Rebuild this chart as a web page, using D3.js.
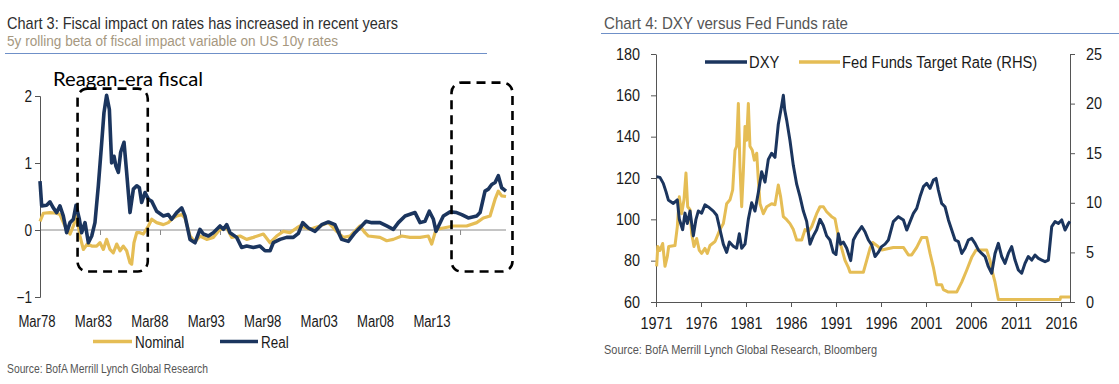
<!DOCTYPE html>
<html><head><meta charset="utf-8">
<script src="https://cdn.jsdelivr.net/npm/d3@7"></script>
<style>
body{margin:0;background:#fff;}
svg text{font-family:"Liberation Sans Narrow","Arial Narrow","Liberation Sans",Arial,sans-serif;}
</style></head><body>
<svg id="c" width="1119" height="384"></svg>
<script>
// ---------- Chart 3 data ----------
const realYears = [1978.17,1978.31,1978.72,1979.0,1979.28,1979.56,1979.83,1980.11,1980.39,1980.67,1980.95,1981.17,1981.45,1981.64,1981.92,1982.2,1982.48,1982.75,1983.03,1983.31,1983.5,1983.72,1983.95,1984.14,1984.34,1984.5,1984.7,1984.89,1985.17,1985.39,1985.67,1985.95,1986.23,1986.45,1986.64,1986.92,1987.2,1987.48,1987.89,1988.45,1988.86,1989.14,1989.56,1989.98,1990.25,1990.67,1991.09,1991.5,1991.78,1992.2,1992.61,1993.17,1993.45,1993.73,1994.0,1994.56,1994.97,1995.39,1995.95,1996.5,1996.92,1997.34,1997.61,1998.17,1998.72,1999.28,1999.7,2000.06,2000.53,2001.09,2001.64,2002.2,2002.75,2003.31,2003.86,2004.42,2004.97,2005.34,2005.81,2006.5,2007.06,2007.61,2008.03,2008.59,2009.42,2009.84,2010.25,2010.61,2010.95,2011.17,2011.78,2012.34,2012.89,2013.31,2013.86,2014.56,2014.84,2015.25,2015.53,2015.81,2016.09,2016.36,2016.64,2017.0];
const realValues = [0.73,0.36,0.37,0.42,0.33,0.26,0.36,0.21,-0.04,0.11,0.16,0.37,0.16,-0.04,0.11,-0.19,-0.09,0.11,0.66,1.30,1.75,2.01,1.80,1.0,1.1,0.95,0.86,1.16,1.31,0.86,0.26,0.61,0.66,0.63,0.41,0.56,0.46,0.43,0.28,0.21,0.23,0.16,0.26,0.33,0.21,-0.14,-0.19,0.01,-0.06,-0.09,-0.04,0.06,0.01,0.08,-0.04,-0.11,-0.26,-0.24,-0.26,-0.24,-0.31,-0.31,-0.19,-0.14,-0.11,-0.11,-0.05,0.11,0.03,-0.02,0.08,0.12,0.08,-0.14,-0.17,-0.04,0.06,0.13,0.11,0.11,0.06,0.01,0.11,0.21,0.26,0.11,0.13,0.28,0.16,-0.02,0.21,0.27,0.26,0.23,0.18,0.21,0.26,0.58,0.61,0.68,0.71,0.81,0.63,0.58];
const nominalYears = [1978.17,1978.45,1979.0,1979.56,1979.83,1980.25,1980.67,1980.95,1981.22,1981.5,1981.78,1982.11,1982.48,1982.89,1983.17,1983.45,1983.72,1984.0,1984.28,1984.56,1984.84,1985.11,1985.39,1985.67,1985.81,1986.0,1986.23,1986.5,1986.78,1987.2,1987.48,1987.89,1988.45,1988.86,1989.14,1989.56,1989.98,1990.25,1990.67,1991.09,1991.5,1992.06,1992.61,1993.17,1993.73,1994.14,1994.84,1995.39,1995.95,1996.78,1997.34,1997.89,1998.45,1999.0,1999.56,1999.84,2000.67,2001.5,2002.2,2002.89,2003.45,2004.0,2004.84,2005.25,2005.53,2006.5,2007.06,2007.61,2008.31,2009.0,2009.84,2010.53,2010.81,2011.17,2011.78,2012.61,2013.72,2014.56,2015.11,2015.67,2016.09,2016.36,2016.64,2017.0];
const nominalValues = [0.13,0.25,0.26,0.25,0.23,0.06,-0.06,0.06,0.21,-0.09,-0.29,-0.21,-0.24,-0.24,-0.19,-0.29,-0.14,-0.29,-0.34,-0.21,-0.31,-0.24,-0.31,-0.49,-0.51,-0.19,-0.04,-0.04,-0.06,0.06,0.16,0.11,0.08,0.11,0.16,0.21,0.23,0.18,-0.09,-0.18,-0.09,-0.14,-0.11,0.01,0.03,-0.11,-0.09,-0.14,-0.11,-0.06,-0.19,-0.09,-0.02,-0.04,0.03,0.06,0.01,0.06,0.11,-0.02,-0.11,-0.09,0.06,-0.04,-0.09,-0.11,-0.16,-0.14,-0.09,-0.11,-0.11,-0.09,-0.21,0.01,0.03,0.06,0.06,0.11,0.18,0.21,0.46,0.58,0.51,0.50];
const leftXLabels = ["Mar78","Mar83","Mar88","Mar93","Mar98","Mar03","Mar08","Mar13"];
const leftXTickYears = [1978.17,1983.17,1988.17,1993.17,1998.17,2003.17,2008.17,2013.17];
const leftYTicks = [2,1,0,-1];
const leftSeriesNames = ["Nominal","Real"];
// highlighted periods [startYear, endYear, low, high]
const boxReagan = [1981.3,1987.15,-0.62,2.11];
const boxRecent = [2012.46,2017.54,-0.62,2.2];

// ---------- Chart 4 data ----------
const dxyYears = [1971.07,1971.44,1971.81,1972.11,1972.37,1972.93,1973.37,1973.59,1973.96,1974.22,1974.48,1974.78,1975.15,1975.44,1975.7,1976.07,1976.44,1976.81,1977.37,1977.74,1978.11,1978.48,1978.85,1979.15,1979.59,1979.96,1980.26,1980.52,1980.89,1981.26,1981.63,1982.0,1982.37,1982.74,1983.11,1983.48,1983.85,1984.22,1984.59,1984.96,1985.15,1985.3,1985.52,1985.89,1986.26,1986.63,1987.0,1987.37,1987.74,1988.11,1988.48,1988.85,1989.22,1989.59,1989.96,1990.33,1990.7,1991.0,1991.26,1991.52,1991.81,1992.19,1992.63,1992.93,1993.3,1993.86,1994.22,1994.6,1994.97,1995.34,1995.7,1996.07,1996.45,1996.82,1997.37,1997.93,1998.49,1998.86,1999.23,1999.6,1999.97,2000.34,2000.71,2001.08,2001.45,2001.82,2002.12,2002.37,2002.74,2003.11,2003.49,2003.86,2004.23,2004.6,2004.97,2005.34,2005.71,2006.08,2006.45,2006.82,2007.19,2007.56,2007.93,2008.3,2008.67,2009.04,2009.41,2009.78,2010.15,2010.52,2010.89,2011.26,2011.63,2012.0,2012.37,2012.74,2013.11,2013.49,2013.86,2014.23,2014.6,2014.97,2015.34,2015.71,2016.08,2016.45,2016.82,2017.0];
const dxyValues = [120.6,120.3,117.4,113.4,109.4,107.7,109.4,100,95,103,98,104,92,100,104,103,107,106,104,102,95,88,84,89,87,86,93,86,88,100,108,104,113,123,118,129,132,130,146,155,160,153,148,138,126,117,111,104,99,88,92,95,100,97,92,90,84,83,93,88,89,86,80,90,93,96.5,94,90,87.6,82,84,86.8,88,90,98.9,101.3,99.7,94.8,98.9,102.9,105.3,111,115.8,117.4,115,119,119.8,114.2,107.7,106.1,99.7,94.8,90,89.2,83.5,86,90,90.8,88.4,85.2,83.5,82,77.1,73.9,83.5,88.4,82,78.7,83.5,86.8,80.3,75.5,73.9,78.7,82,80.3,82.7,81.1,80.3,79.5,80.3,96.5,98.9,98,99.7,94.8,98,99];
const fedYears = [1971.07,1971.2,1971.44,1971.74,1972.0,1972.26,1972.41,1973.11,1973.37,1973.59,1973.85,1974.11,1974.33,1974.52,1974.78,1974.96,1975.22,1975.52,1975.81,1976.07,1976.44,1976.7,1977.0,1977.56,1978.11,1978.48,1978.85,1979.22,1979.52,1979.78,1979.96,1980.15,1980.33,1980.52,1980.7,1980.89,1981.07,1981.26,1981.44,1981.7,1981.93,1982.19,1982.37,1982.56,1982.93,1983.3,1983.85,1984.22,1984.59,1984.85,1985.15,1985.52,1985.89,1986.26,1986.63,1987.19,1987.56,1987.93,1988.3,1988.85,1989.22,1989.6,1989.96,1990.52,1990.89,1991.26,1991.63,1992.0,1992.37,1992.56,1994.04,1994.41,1994.78,1995.08,1995.52,1996.08,1997.37,1998.49,1999.04,1999.41,1999.97,2000.52,2001.08,2001.45,2001.82,2002.19,2002.74,2002.93,2003.49,2004.41,2004.97,2005.52,2006.08,2006.56,2007.74,2008.11,2008.41,2008.67,2009.04,2015.9,2015.96,2017.0];
const fedValues = [3.6,5.6,5.2,5.9,3.6,4.6,5.6,5.7,7.6,10.6,8.9,10.3,13.0,9.6,9.3,6.9,5.6,6.4,5.2,4.9,5.4,4.9,5.7,6.1,7.3,7.9,9.9,10.3,11.3,15.3,15.7,20.0,13.6,9.6,13.0,17.7,16.3,20.0,15.7,15.3,14.3,15.0,12.3,9.9,8.9,9.6,9.9,9.8,11.8,10.6,8.6,8.3,7.9,7.3,6.25,6.25,7.3,7.1,7.6,8.9,9.6,9.6,9.1,8.6,8.4,6.6,5.4,4.2,3.5,3.0,3.0,4.2,5.4,6.0,5.7,5.25,5.5,5.5,4.75,4.75,5.5,6.5,6.5,4.9,3.5,1.75,1.75,1.25,1.0,1.0,2.0,3.2,4.5,5.25,5.25,4.2,2.9,2.0,0.25,0.25,0.5,0.5];
const rightXTicks = [1971,1976,1981,1986,1991,1996,2001,2006,2011,2016];
const dxyTicks = [60,80,100,120,140,160,180];
const fedTicks = [0,5,10,15,20,25];
const rightSeriesNames = ["DXY","Fed Funds Target Rate (RHS)"];

const NAVY = "#1b355e", GOLD = "#e5bd55", AXIS = "#555";
const svg = d3.select("#c");

// text-width helpers (no narrow font installed)
function condense(sel, f){ sel.each(function(){ const l=this.getComputedTextLength(); d3.select(this).attr("textLength", l*f).attr("lengthAdjust","spacingAndGlyphs"); }); return sel; }
function fitW(sel, w){ return sel.attr("textLength", w).attr("lengthAdjust","spacingAndGlyphs"); }

// ======== Chart 3 ========
const L = svg.append("g");
fitW(L.append("text").attr("x",7).attr("y",29).attr("font-size",17).attr("fill","#2e2e2e")
  .text("Chart 3: Fiscal impact on rates has increased in recent years"),391);
fitW(L.append("text").attr("x",7).attr("y",46).attr("font-size",15.5).attr("fill","#a6987f")
  .text("5y rolling beta of fiscal impact variable on US 10y rates"),331);
L.append("line").attr("x1",5).attr("x2",487).attr("y1",53.5).attr("y2",53.5).attr("stroke","#6f90c8").attr("stroke-width",1);

const xL = d3.scaleLinear().domain([1978.17,2017.0]).range([40,506]);
const yL = d3.scaleLinear().domain([-1,2]).range([297,96]);

const xAxisL = d3.axisBottom(xL).tickValues(leftXTickYears).tickSize(5).tickFormat("");
const gx = L.append("g").attr("transform",`translate(0,${yL(0)})`).call(xAxisL);
gx.select(".domain").attr("stroke","#8a8a8a").attr("d",`M40,0H506`);
gx.selectAll(".tick line").attr("stroke","#8a8a8a");

const yAxisL = d3.axisLeft(yL).tickValues(leftYTicks).tickSize(5).tickFormat(d3.format("d"));
const gy = L.append("g").attr("transform","translate(40,0)").call(yAxisL);
gy.select(".domain").attr("stroke",AXIS);
gy.selectAll(".tick line").attr("stroke",AXIS);
condense(gy.selectAll(".tick text").attr("font-size",16).attr("fill","#1a1a1a").attr("x",-8)
  .attr("font-family","'Liberation Sans',sans-serif"),0.85);

const xLab = d3.scalePoint().domain(leftXLabels).range([37,432]);
condense(L.append("g").selectAll("text").data(leftXLabels).join("text")
  .attr("x",d=>xLab(d)).attr("y",327).attr("text-anchor","middle").attr("font-size",16).attr("fill","#1a1a1a").text(d=>d),0.82);

const lineL = (ys,vs)=>d3.line().x((d,i)=>xL(ys[i])).y(d=>yL(d))(vs);
L.append("path").attr("d",lineL(nominalYears,nominalValues)).attr("fill","none").attr("stroke",GOLD).attr("stroke-width",3.2).attr("stroke-linejoin","round");
L.append("path").attr("d",lineL(realYears,realValues)).attr("fill","none").attr("stroke",NAVY).attr("stroke-width",3.6).attr("stroke-linejoin","round");

[boxReagan,boxRecent].forEach(b=>{
  L.append("rect").attr("x",xL(b[0])).attr("y",yL(b[3])).attr("width",xL(b[1])-xL(b[0])).attr("height",yL(b[2])-yL(b[3]))
   .attr("rx",10).attr("fill","none").attr("stroke","#000").attr("stroke-width",2.6).attr("stroke-dasharray","9,6");
});
fitW(L.append("text").attr("x",53).attr("y",86).attr("font-size",19.5).attr("fill","#000")
  .style("font-family","Lato,'Open Sans',sans-serif").text("Reagan-era fiscal"),150);

const legL = L.append("g");
[[93,132,135,GOLD,leftSeriesNames[0]],[220,258,261,NAVY,leftSeriesNames[1]]].forEach(([a,b,t,c,n])=>{
  legL.append("line").attr("x1",a).attr("x2",b).attr("y1",341.5).attr("y2",341.5).attr("stroke",c).attr("stroke-width",3.5);
  condense(legL.append("text").attr("x",t).attr("y",347.5).attr("font-size",16).attr("fill","#1a1a1a").text(n),0.84);
});
fitW(L.append("text").attr("x",7).attr("y",373).attr("font-size",12.5).attr("fill","#555").text("Source: BofA Merrill Lynch Global Research"),201);

// ======== Chart 4 ========
const R = svg.append("g");
fitW(R.append("text").attr("x",604).attr("y",29).attr("font-size",17).attr("fill","#555").text("Chart 4: DXY versus Fed Funds rate"),244);
R.append("line").attr("x1",601).attr("x2",1119).attr("y1",33.5).attr("y2",33.5).attr("stroke","#6f90c8").attr("stroke-width",1);

const xR = d3.scaleLinear().domain([1971,2017]).range([656,1070]);
const yD = d3.scaleLinear().domain([60,180]).range([302,54]);
const yF = d3.scaleLinear().domain([0,25]).range([302,54]);

const styleAxis = g=>{g.select(".domain").attr("stroke",AXIS);g.selectAll(".tick line").attr("stroke",AXIS);
  condense(g.selectAll(".tick text").attr("font-size",16).attr("fill","#1a1a1a")
   .attr("font-family","'Liberation Sans',sans-serif"),0.9);};
R.append("g").attr("transform","translate(0,302)")
  .call(d3.axisBottom(xR).tickValues(rightXTicks).tickSize(5).tickSizeOuter(0).tickFormat(d3.format("d")).tickPadding(11)).call(styleAxis);
R.append("g").attr("transform","translate(656,0)")
  .call(d3.axisLeft(yD).tickValues(dxyTicks).tickSize(5).tickSizeOuter(0).tickPadding(11)).call(styleAxis);
R.append("g").attr("transform","translate(1070,0)")
  .call(d3.axisRight(yF).tickValues(fedTicks).tickSize(5).tickSizeOuter(0).tickPadding(11)).call(styleAxis);

const lineR = (ys,vs,y)=>d3.line().x((d,i)=>xR(ys[i])).y(d=>y(d))(vs);
R.append("path").attr("d",lineR(fedYears,fedValues,yF)).attr("fill","none").attr("stroke",GOLD).attr("stroke-width",3).attr("stroke-linejoin","round");
R.append("path").attr("d",lineR(dxyYears,dxyValues,yD)).attr("fill","none").attr("stroke",NAVY).attr("stroke-width",3).attr("stroke-linejoin","round");

const legR = R.append("g");
[[705,747,749,NAVY,rightSeriesNames[0]],[799,840,842,GOLD,rightSeriesNames[1]]].forEach(([a,b,t,c,n])=>{
  legR.append("line").attr("x1",a).attr("x2",b).attr("y1",62).attr("y2",62).attr("stroke",c).attr("stroke-width",3.5);
  condense(legR.append("text").attr("x",t).attr("y",68).attr("font-size",16).attr("fill","#1a1a1a").text(n),0.92);
});
fitW(R.append("text").attr("x",604).attr("y",354).attr("font-size",12.5).attr("fill","#555").text("Source: BofA Merrill Lynch Global Research, Bloomberg"),273);
</script>
</body></html>
